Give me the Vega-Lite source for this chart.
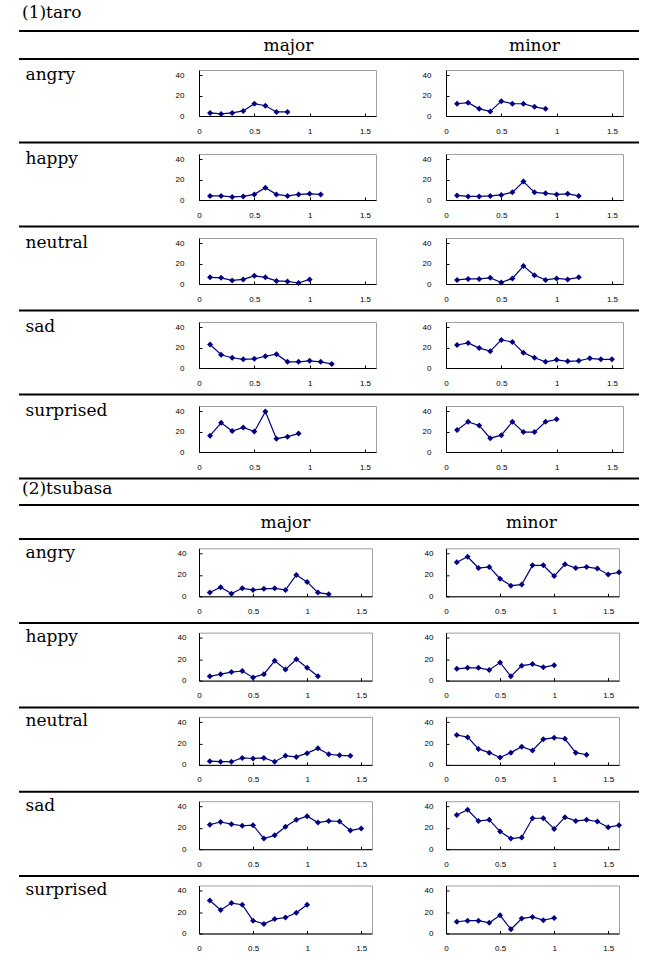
{
"$schema": "https://vega.github.io/schema/vega-lite/v6.json",
"background": "white",
"padding": {"left": 18, "top": 4, "right": 8, "bottom": 0},
"config": {
 "view": {"stroke": "#a0a0a0", "strokeWidth": 1},
 "axis": {"labelFont": "Liberation Sans", "labelFontSize": 8, "labelColor": "black", "domainColor": "black", "tickColor": "black", "grid": false, "tickSize": -3, "labelFlush": false},
 "axisX": {"labelPadding": 14},
 "axisY": {"labelPadding": 18, "titleAngle": 0, "titleAlign": "left", "titleBaseline": "alphabetic", "titleFont": "DejaVu Serif", "titleFontSize": 17, "titleFontWeight": "normal", "titleColor": "black", "titleY": 9, "titleX": -174},
 "title": {"font": "DejaVu Serif", "fontSize": 17, "fontWeight": "normal", "anchor": "start", "frame": "bounds", "dx": 4, "color": "black", "offset": 8},
 "line": {"color": "#000080", "strokeWidth": 1.2},
 "point": {"shape": "diamond", "filled": true, "size": 36, "color": "#000080"}
},
"datasets": {
 "taro_major_angry": [{"x":0.1,"y":3},{"x":0.2,"y":2},{"x":0.3,"y":3},{"x":0.4,"y":5},{"x":0.5,"y":12},{"x":0.6,"y":10},{"x":0.7,"y":4},{"x":0.8,"y":4}],
 "taro_major_happy": [{"x":0.1,"y":4},{"x":0.2,"y":4},{"x":0.3,"y":3},{"x":0.4,"y":3.5},{"x":0.5,"y":5.5},{"x":0.6,"y":12},{"x":0.7,"y":5.5},{"x":0.8,"y":4},{"x":0.9,"y":5.5},{"x":1.0,"y":6},{"x":1.1,"y":5.5}],
 "taro_major_neutral": [{"x":0.1,"y":6.5},{"x":0.2,"y":6},{"x":0.3,"y":3.5},{"x":0.4,"y":4.5},{"x":0.5,"y":8},{"x":0.6,"y":6.5},{"x":0.7,"y":3},{"x":0.8,"y":2.5},{"x":0.9,"y":1},{"x":1.0,"y":4.5}],
 "taro_major_sad": [{"x":0.1,"y":23},{"x":0.2,"y":13},{"x":0.3,"y":10},{"x":0.4,"y":8.5},{"x":0.5,"y":9},{"x":0.6,"y":11.5},{"x":0.7,"y":13.5},{"x":0.8,"y":6},{"x":0.9,"y":6},{"x":1.0,"y":7},{"x":1.1,"y":6},{"x":1.2,"y":4}],
 "taro_major_surprised": [{"x":0.1,"y":16},{"x":0.2,"y":28.5},{"x":0.3,"y":20.5},{"x":0.4,"y":24},{"x":0.5,"y":20},{"x":0.6,"y":39.5},{"x":0.7,"y":13},{"x":0.8,"y":15},{"x":0.9,"y":18}],
 "taro_minor_angry": [{"x":0.1,"y":12},{"x":0.2,"y":13},{"x":0.3,"y":7},{"x":0.4,"y":4.5},{"x":0.5,"y":14.5},{"x":0.6,"y":12},{"x":0.7,"y":12},{"x":0.8,"y":9},{"x":0.9,"y":7}],
 "taro_minor_happy": [{"x":0.1,"y":4.5},{"x":0.2,"y":3.5},{"x":0.3,"y":3.5},{"x":0.4,"y":4},{"x":0.5,"y":5},{"x":0.6,"y":7.5},{"x":0.7,"y":18},{"x":0.8,"y":7.5},{"x":0.9,"y":6.5},{"x":1.0,"y":5.5},{"x":1.1,"y":6},{"x":1.2,"y":4}],
 "taro_minor_neutral": [{"x":0.1,"y":4},{"x":0.2,"y":5},{"x":0.3,"y":5},{"x":0.4,"y":6},{"x":0.5,"y":1.5},{"x":0.6,"y":5.5},{"x":0.7,"y":17.5},{"x":0.8,"y":8.5},{"x":0.9,"y":4},{"x":1.0,"y":5.5},{"x":1.1,"y":4.5},{"x":1.2,"y":6.5}],
 "taro_minor_sad": [{"x":0.1,"y":22.5},{"x":0.2,"y":24.5},{"x":0.3,"y":19.5},{"x":0.4,"y":16.5},{"x":0.5,"y":27.5},{"x":0.6,"y":25.5},{"x":0.7,"y":15},{"x":0.8,"y":10},{"x":0.9,"y":6},{"x":1.0,"y":8},{"x":1.1,"y":6.5},{"x":1.2,"y":7},{"x":1.3,"y":9.5},{"x":1.4,"y":8.5},{"x":1.5,"y":8.5}],
 "taro_minor_surprised": [{"x":0.1,"y":21.5},{"x":0.2,"y":29.5},{"x":0.3,"y":26},{"x":0.4,"y":13.5},{"x":0.5,"y":16.5},{"x":0.6,"y":29.5},{"x":0.7,"y":19.5},{"x":0.8,"y":19.5},{"x":0.9,"y":29.5},{"x":1.0,"y":32}],
 "tsubasa_major_angry": [{"x":0.1,"y":3.5},{"x":0.2,"y":8.5},{"x":0.3,"y":2.5},{"x":0.4,"y":7.5},{"x":0.5,"y":6},{"x":0.6,"y":7},{"x":0.7,"y":7.5},{"x":0.8,"y":6},{"x":0.9,"y":20},{"x":1.0,"y":13.5},{"x":1.1,"y":3.5},{"x":1.2,"y":2}],
 "tsubasa_major_happy": [{"x":0.1,"y":4},{"x":0.2,"y":6},{"x":0.3,"y":8},{"x":0.4,"y":9},{"x":0.5,"y":3},{"x":0.6,"y":6},{"x":0.7,"y":18.5},{"x":0.8,"y":10.5},{"x":0.9,"y":20},{"x":1.0,"y":12},{"x":1.1,"y":4}],
 "tsubasa_major_neutral": [{"x":0.1,"y":3.5},{"x":0.2,"y":3},{"x":0.3,"y":3},{"x":0.4,"y":6.5},{"x":0.5,"y":6},{"x":0.6,"y":6.5},{"x":0.7,"y":3},{"x":0.8,"y":8.5},{"x":0.9,"y":7.5},{"x":1.0,"y":11},{"x":1.1,"y":15.5},{"x":1.2,"y":10},{"x":1.3,"y":9},{"x":1.4,"y":8.5}],
 "tsubasa_major_sad": [{"x":0.1,"y":23},{"x":0.2,"y":25.5},{"x":0.3,"y":23.5},{"x":0.4,"y":22},{"x":0.5,"y":22.5},{"x":0.6,"y":10},{"x":0.7,"y":13},{"x":0.8,"y":21},{"x":0.9,"y":27.5},{"x":1.0,"y":31},{"x":1.1,"y":25},{"x":1.2,"y":26.5},{"x":1.3,"y":26},{"x":1.4,"y":17.5},{"x":1.5,"y":19.5}],
 "tsubasa_major_surprised": [{"x":0.1,"y":31},{"x":0.2,"y":22},{"x":0.3,"y":28.5},{"x":0.4,"y":27},{"x":0.5,"y":12},{"x":0.6,"y":9},{"x":0.7,"y":13.5},{"x":0.8,"y":15},{"x":0.9,"y":19.5},{"x":1.0,"y":27}],
 "tsubasa_minor_angry": [{"x":0.1,"y":32},{"x":0.2,"y":37},{"x":0.3,"y":26.5},{"x":0.4,"y":27.5},{"x":0.5,"y":16.5},{"x":0.6,"y":10},{"x":0.7,"y":11},{"x":0.8,"y":29},{"x":0.9,"y":29},{"x":1.0,"y":19},{"x":1.1,"y":30},{"x":1.2,"y":26.5},{"x":1.3,"y":27.5},{"x":1.4,"y":26},{"x":1.5,"y":20.5},{"x":1.6,"y":22.5}],
 "tsubasa_minor_happy": [{"x":0.1,"y":11},{"x":0.2,"y":12},{"x":0.3,"y":12},{"x":0.4,"y":10},{"x":0.5,"y":17},{"x":0.6,"y":4},{"x":0.7,"y":14},{"x":0.8,"y":15.5},{"x":0.9,"y":12.5},{"x":1.0,"y":14.5}],
 "tsubasa_minor_neutral": [{"x":0.1,"y":28},{"x":0.2,"y":26},{"x":0.3,"y":15},{"x":0.4,"y":11.5},{"x":0.5,"y":7},{"x":0.6,"y":11.5},{"x":0.7,"y":17},{"x":0.8,"y":13.5},{"x":0.9,"y":24},{"x":1.0,"y":25.5},{"x":1.1,"y":24.5},{"x":1.2,"y":11.5},{"x":1.3,"y":9.5}],
 "tsubasa_minor_sad": [{"x":0.1,"y":32},{"x":0.2,"y":37},{"x":0.3,"y":26.5},{"x":0.4,"y":27.5},{"x":0.5,"y":16.5},{"x":0.6,"y":10},{"x":0.7,"y":11},{"x":0.8,"y":29},{"x":0.9,"y":29},{"x":1.0,"y":19},{"x":1.1,"y":30},{"x":1.2,"y":26.5},{"x":1.3,"y":27.5},{"x":1.4,"y":26},{"x":1.5,"y":20.5},{"x":1.6,"y":22.5}],
 "tsubasa_minor_surprised": [{"x":0.1,"y":11},{"x":0.2,"y":12},{"x":0.3,"y":12},{"x":0.4,"y":10},{"x":0.5,"y":17},{"x":0.6,"y":4},{"x":0.7,"y":14},{"x":0.8,"y":15.5},{"x":0.9,"y":12.5},{"x":1.0,"y":14.5}],
 "sep": [{"a":0,"b":1}],
 "hdr": [{"h":"major"},{"h":"minor"}]
},
"spacing": 0,
"vconcat": [
 {"spacing": 4, "vconcat": [
  {"spacing": 4, "vconcat": [
   {"title": "(1)taro", "width": 177, "height": 1, "view": {"stroke": null}, "data": {"name": "sep"}, "mark": {"type": "rule", "strokeWidth": 2, "color": "black"}, "encoding": {"x": {"field": "a", "type": "quantitative", "scale": {"domain": [0, 1], "range": [-180, 440]}, "axis": null}, "x2": {"field": "b"}, "y": {"datum": 1, "type": "quantitative", "scale": {"domain": [0, 1]}, "axis": null}}},
   {"width": 177, "height": 17, "view": {"stroke": null}, "data": {"name": "hdr"}, "mark": {"type": "text", "font": "DejaVu Serif", "fontSize": 17, "color": "black"}, "encoding": {"x": {"field": "h", "type": "nominal", "scale": {"type": "point", "domain": ["major", "minor"], "range": [89.5, 335.5], "padding": 0}, "axis": null}, "text": {"field": "h"}}},
   {"width": 177, "height": 1, "view": {"stroke": null}, "data": {"name": "sep"}, "mark": {"type": "rule", "strokeWidth": 2, "color": "black"}, "encoding": {"x": {"field": "a", "type": "quantitative", "scale": {"domain": [0, 1], "range": [-180, 440]}, "axis": null}, "x2": {"field": "b"}, "y": {"datum": 1, "type": "quantitative", "scale": {"domain": [0, 1]}, "axis": null}}}
  ]},
  {"spacing": 5.5, "vconcat": [
   {"spacing": 44, "hconcat": [
    {"width": 177, "height": 46, "data": {"name": "taro_major_angry"}, "mark": {"type": "line", "point": true}, "encoding": {"x": {"field": "x", "type": "quantitative", "scale": {"domain": [0, 1.6], "nice": false}, "axis": {"values": [0, 0.5, 1, 1.5], "format": "~g", "title": null}}, "y": {"field": "y", "type": "quantitative", "scale": {"domain": [0, 45], "nice": false}, "axis": {"values": [0, 20, 40], "title": "angry"}}}},
    {"width": 177, "height": 46, "data": {"name": "taro_minor_angry"}, "mark": {"type": "line", "point": true}, "encoding": {"x": {"field": "x", "type": "quantitative", "scale": {"domain": [0, 1.6], "nice": false}, "axis": {"values": [0, 0.5, 1, 1.5], "format": "~g", "title": null}}, "y": {"field": "y", "type": "quantitative", "scale": {"domain": [0, 45], "nice": false}, "axis": {"values": [0, 20, 40], "title": null}}}}
   ]},
   {"width": 177, "height": 1, "view": {"stroke": null}, "data": {"name": "sep"}, "mark": {"type": "rule", "strokeWidth": 2, "color": "black"}, "encoding": {"x": {"field": "a", "type": "quantitative", "scale": {"domain": [0, 1], "range": [-180, 440]}, "axis": null}, "x2": {"field": "b"}, "y": {"datum": 1, "type": "quantitative", "scale": {"domain": [0, 1]}, "axis": null}}}
  ]},
  {"spacing": 5.5, "vconcat": [
   {"spacing": 44, "hconcat": [
    {"width": 177, "height": 46, "data": {"name": "taro_major_happy"}, "mark": {"type": "line", "point": true}, "encoding": {"x": {"field": "x", "type": "quantitative", "scale": {"domain": [0, 1.6], "nice": false}, "axis": {"values": [0, 0.5, 1, 1.5], "format": "~g", "title": null}}, "y": {"field": "y", "type": "quantitative", "scale": {"domain": [0, 45], "nice": false}, "axis": {"values": [0, 20, 40], "title": "happy"}}}},
    {"width": 177, "height": 46, "data": {"name": "taro_minor_happy"}, "mark": {"type": "line", "point": true}, "encoding": {"x": {"field": "x", "type": "quantitative", "scale": {"domain": [0, 1.6], "nice": false}, "axis": {"values": [0, 0.5, 1, 1.5], "format": "~g", "title": null}}, "y": {"field": "y", "type": "quantitative", "scale": {"domain": [0, 45], "nice": false}, "axis": {"values": [0, 20, 40], "title": null}}}}
   ]},
   {"width": 177, "height": 1, "view": {"stroke": null}, "data": {"name": "sep"}, "mark": {"type": "rule", "strokeWidth": 2, "color": "black"}, "encoding": {"x": {"field": "a", "type": "quantitative", "scale": {"domain": [0, 1], "range": [-180, 440]}, "axis": null}, "x2": {"field": "b"}, "y": {"datum": 1, "type": "quantitative", "scale": {"domain": [0, 1]}, "axis": null}}}
  ]},
  {"spacing": 5.5, "vconcat": [
   {"spacing": 44, "hconcat": [
    {"width": 177, "height": 46, "data": {"name": "taro_major_neutral"}, "mark": {"type": "line", "point": true}, "encoding": {"x": {"field": "x", "type": "quantitative", "scale": {"domain": [0, 1.6], "nice": false}, "axis": {"values": [0, 0.5, 1, 1.5], "format": "~g", "title": null}}, "y": {"field": "y", "type": "quantitative", "scale": {"domain": [0, 45], "nice": false}, "axis": {"values": [0, 20, 40], "title": "neutral"}}}},
    {"width": 177, "height": 46, "data": {"name": "taro_minor_neutral"}, "mark": {"type": "line", "point": true}, "encoding": {"x": {"field": "x", "type": "quantitative", "scale": {"domain": [0, 1.6], "nice": false}, "axis": {"values": [0, 0.5, 1, 1.5], "format": "~g", "title": null}}, "y": {"field": "y", "type": "quantitative", "scale": {"domain": [0, 45], "nice": false}, "axis": {"values": [0, 20, 40], "title": null}}}}
   ]},
   {"width": 177, "height": 1, "view": {"stroke": null}, "data": {"name": "sep"}, "mark": {"type": "rule", "strokeWidth": 2, "color": "black"}, "encoding": {"x": {"field": "a", "type": "quantitative", "scale": {"domain": [0, 1], "range": [-180, 440]}, "axis": null}, "x2": {"field": "b"}, "y": {"datum": 1, "type": "quantitative", "scale": {"domain": [0, 1]}, "axis": null}}}
  ]},
  {"spacing": 5.5, "vconcat": [
   {"spacing": 44, "hconcat": [
    {"width": 177, "height": 46, "data": {"name": "taro_major_sad"}, "mark": {"type": "line", "point": true}, "encoding": {"x": {"field": "x", "type": "quantitative", "scale": {"domain": [0, 1.6], "nice": false}, "axis": {"values": [0, 0.5, 1, 1.5], "format": "~g", "title": null}}, "y": {"field": "y", "type": "quantitative", "scale": {"domain": [0, 45], "nice": false}, "axis": {"values": [0, 20, 40], "title": "sad"}}}},
    {"width": 177, "height": 46, "data": {"name": "taro_minor_sad"}, "mark": {"type": "line", "point": true}, "encoding": {"x": {"field": "x", "type": "quantitative", "scale": {"domain": [0, 1.6], "nice": false}, "axis": {"values": [0, 0.5, 1, 1.5], "format": "~g", "title": null}}, "y": {"field": "y", "type": "quantitative", "scale": {"domain": [0, 45], "nice": false}, "axis": {"values": [0, 20, 40], "title": null}}}}
   ]},
   {"width": 177, "height": 1, "view": {"stroke": null}, "data": {"name": "sep"}, "mark": {"type": "rule", "strokeWidth": 2, "color": "black"}, "encoding": {"x": {"field": "a", "type": "quantitative", "scale": {"domain": [0, 1], "range": [-180, 440]}, "axis": null}, "x2": {"field": "b"}, "y": {"datum": 1, "type": "quantitative", "scale": {"domain": [0, 1]}, "axis": null}}}
  ]},
  {"spacing": 5.5, "vconcat": [
   {"spacing": 44, "hconcat": [
    {"width": 177, "height": 46, "data": {"name": "taro_major_surprised"}, "mark": {"type": "line", "point": true}, "encoding": {"x": {"field": "x", "type": "quantitative", "scale": {"domain": [0, 1.6], "nice": false}, "axis": {"values": [0, 0.5, 1, 1.5], "format": "~g", "title": null}}, "y": {"field": "y", "type": "quantitative", "scale": {"domain": [0, 45], "nice": false}, "axis": {"values": [0, 20, 40], "title": "surprised"}}}},
    {"width": 177, "height": 46, "data": {"name": "taro_minor_surprised"}, "mark": {"type": "line", "point": true}, "encoding": {"x": {"field": "x", "type": "quantitative", "scale": {"domain": [0, 1.6], "nice": false}, "axis": {"values": [0, 0.5, 1, 1.5], "format": "~g", "title": null}}, "y": {"field": "y", "type": "quantitative", "scale": {"domain": [0, 45], "nice": false}, "axis": {"values": [0, 20, 40], "title": null}}}}
   ]},
   {"width": 177, "height": 1, "view": {"stroke": null}, "data": {"name": "sep"}, "mark": {"type": "rule", "strokeWidth": 2, "color": "black"}, "encoding": {"x": {"field": "a", "type": "quantitative", "scale": {"domain": [0, 1], "range": [-180, 440]}, "axis": null}, "x2": {"field": "b"}, "y": {"datum": 1, "type": "quantitative", "scale": {"domain": [0, 1]}, "axis": null}}}
  ]}
 ]},
 {"spacing": 2.3, "vconcat": [
  {"spacing": 7, "vconcat": [
   {"title": {"text": "(2)tsubasa", "offset": 6}, "width": 173, "height": 1, "view": {"stroke": null}, "data": {"name": "sep"}, "mark": {"type": "rule", "strokeWidth": 2, "color": "black"}, "encoding": {"x": {"field": "a", "type": "quantitative", "scale": {"domain": [0, 1], "range": [-180, 440]}, "axis": null}, "x2": {"field": "b"}, "y": {"datum": 1, "type": "quantitative", "scale": {"domain": [0, 1]}, "axis": null}}},
   {"width": 173, "height": 15, "view": {"stroke": null}, "data": {"name": "hdr"}, "mark": {"type": "text", "font": "DejaVu Serif", "fontSize": 17, "color": "black"}, "encoding": {"x": {"field": "h", "type": "nominal", "scale": {"type": "point", "domain": ["major", "minor"], "range": [86.5, 332.5], "padding": 0}, "axis": null}, "text": {"field": "h"}}},
   {"width": 173, "height": 1, "view": {"stroke": null}, "data": {"name": "sep"}, "mark": {"type": "rule", "strokeWidth": 2, "color": "black"}, "encoding": {"x": {"field": "a", "type": "quantitative", "scale": {"domain": [0, 1], "range": [-180, 440]}, "axis": null}, "x2": {"field": "b"}, "y": {"datum": 1, "type": "quantitative", "scale": {"domain": [0, 1]}, "axis": null}}}
  ]},
  {"spacing": 5.8, "vconcat": [
   {"spacing": 50, "hconcat": [
    {"width": 173, "height": 48, "data": {"name": "tsubasa_major_angry"}, "mark": {"type": "line", "point": true}, "encoding": {"x": {"field": "x", "type": "quantitative", "scale": {"domain": [0, 1.6], "nice": false}, "axis": {"values": [0, 0.5, 1, 1.5], "format": "~g", "title": null}}, "y": {"field": "y", "type": "quantitative", "scale": {"domain": [0, 45], "nice": false}, "axis": {"values": [0, 20, 40], "title": "angry", "labelPadding": 16}}}},
    {"width": 173, "height": 48, "data": {"name": "tsubasa_minor_angry"}, "mark": {"type": "line", "point": true}, "encoding": {"x": {"field": "x", "type": "quantitative", "scale": {"domain": [0, 1.6], "nice": false}, "axis": {"values": [0, 0.5, 1, 1.5], "format": "~g", "title": null}}, "y": {"field": "y", "type": "quantitative", "scale": {"domain": [0, 45], "nice": false}, "axis": {"values": [0, 20, 40], "title": null, "labelPadding": 16}}}}
   ]},
   {"width": 173, "height": 1, "view": {"stroke": null}, "data": {"name": "sep"}, "mark": {"type": "rule", "strokeWidth": 2, "color": "black"}, "encoding": {"x": {"field": "a", "type": "quantitative", "scale": {"domain": [0, 1], "range": [-180, 440]}, "axis": null}, "x2": {"field": "b"}, "y": {"datum": 1, "type": "quantitative", "scale": {"domain": [0, 1]}, "axis": null}}}
  ]},
  {"spacing": 5.8, "vconcat": [
   {"spacing": 50, "hconcat": [
    {"width": 173, "height": 48, "data": {"name": "tsubasa_major_happy"}, "mark": {"type": "line", "point": true}, "encoding": {"x": {"field": "x", "type": "quantitative", "scale": {"domain": [0, 1.6], "nice": false}, "axis": {"values": [0, 0.5, 1, 1.5], "format": "~g", "title": null}}, "y": {"field": "y", "type": "quantitative", "scale": {"domain": [0, 45], "nice": false}, "axis": {"values": [0, 20, 40], "title": "happy", "labelPadding": 16}}}},
    {"width": 173, "height": 48, "data": {"name": "tsubasa_minor_happy"}, "mark": {"type": "line", "point": true}, "encoding": {"x": {"field": "x", "type": "quantitative", "scale": {"domain": [0, 1.6], "nice": false}, "axis": {"values": [0, 0.5, 1, 1.5], "format": "~g", "title": null}}, "y": {"field": "y", "type": "quantitative", "scale": {"domain": [0, 45], "nice": false}, "axis": {"values": [0, 20, 40], "title": null, "labelPadding": 16}}}}
   ]},
   {"width": 173, "height": 1, "view": {"stroke": null}, "data": {"name": "sep"}, "mark": {"type": "rule", "strokeWidth": 2, "color": "black"}, "encoding": {"x": {"field": "a", "type": "quantitative", "scale": {"domain": [0, 1], "range": [-180, 440]}, "axis": null}, "x2": {"field": "b"}, "y": {"datum": 1, "type": "quantitative", "scale": {"domain": [0, 1]}, "axis": null}}}
  ]},
  {"spacing": 5.8, "vconcat": [
   {"spacing": 50, "hconcat": [
    {"width": 173, "height": 48, "data": {"name": "tsubasa_major_neutral"}, "mark": {"type": "line", "point": true}, "encoding": {"x": {"field": "x", "type": "quantitative", "scale": {"domain": [0, 1.6], "nice": false}, "axis": {"values": [0, 0.5, 1, 1.5], "format": "~g", "title": null}}, "y": {"field": "y", "type": "quantitative", "scale": {"domain": [0, 45], "nice": false}, "axis": {"values": [0, 20, 40], "title": "neutral", "labelPadding": 16}}}},
    {"width": 173, "height": 48, "data": {"name": "tsubasa_minor_neutral"}, "mark": {"type": "line", "point": true}, "encoding": {"x": {"field": "x", "type": "quantitative", "scale": {"domain": [0, 1.6], "nice": false}, "axis": {"values": [0, 0.5, 1, 1.5], "format": "~g", "title": null}}, "y": {"field": "y", "type": "quantitative", "scale": {"domain": [0, 45], "nice": false}, "axis": {"values": [0, 20, 40], "title": null, "labelPadding": 16}}}}
   ]},
   {"width": 173, "height": 1, "view": {"stroke": null}, "data": {"name": "sep"}, "mark": {"type": "rule", "strokeWidth": 2, "color": "black"}, "encoding": {"x": {"field": "a", "type": "quantitative", "scale": {"domain": [0, 1], "range": [-180, 440]}, "axis": null}, "x2": {"field": "b"}, "y": {"datum": 1, "type": "quantitative", "scale": {"domain": [0, 1]}, "axis": null}}}
  ]},
  {"spacing": 5.8, "vconcat": [
   {"spacing": 50, "hconcat": [
    {"width": 173, "height": 48, "data": {"name": "tsubasa_major_sad"}, "mark": {"type": "line", "point": true}, "encoding": {"x": {"field": "x", "type": "quantitative", "scale": {"domain": [0, 1.6], "nice": false}, "axis": {"values": [0, 0.5, 1, 1.5], "format": "~g", "title": null}}, "y": {"field": "y", "type": "quantitative", "scale": {"domain": [0, 45], "nice": false}, "axis": {"values": [0, 20, 40], "title": "sad", "labelPadding": 16}}}},
    {"width": 173, "height": 48, "data": {"name": "tsubasa_minor_sad"}, "mark": {"type": "line", "point": true}, "encoding": {"x": {"field": "x", "type": "quantitative", "scale": {"domain": [0, 1.6], "nice": false}, "axis": {"values": [0, 0.5, 1, 1.5], "format": "~g", "title": null}}, "y": {"field": "y", "type": "quantitative", "scale": {"domain": [0, 45], "nice": false}, "axis": {"values": [0, 20, 40], "title": null, "labelPadding": 16}}}}
   ]},
   {"width": 173, "height": 1, "view": {"stroke": null}, "data": {"name": "sep"}, "mark": {"type": "rule", "strokeWidth": 2, "color": "black"}, "encoding": {"x": {"field": "a", "type": "quantitative", "scale": {"domain": [0, 1], "range": [-180, 440]}, "axis": null}, "x2": {"field": "b"}, "y": {"datum": 1, "type": "quantitative", "scale": {"domain": [0, 1]}, "axis": null}}}
  ]},
  {"spacing": 50, "hconcat": [
   {"width": 173, "height": 48, "data": {"name": "tsubasa_major_surprised"}, "mark": {"type": "line", "point": true}, "encoding": {"x": {"field": "x", "type": "quantitative", "scale": {"domain": [0, 1.6], "nice": false}, "axis": {"values": [0, 0.5, 1, 1.5], "format": "~g", "title": null}}, "y": {"field": "y", "type": "quantitative", "scale": {"domain": [0, 45], "nice": false}, "axis": {"values": [0, 20, 40], "title": "surprised", "labelPadding": 16}}}},
   {"width": 173, "height": 48, "data": {"name": "tsubasa_minor_surprised"}, "mark": {"type": "line", "point": true}, "encoding": {"x": {"field": "x", "type": "quantitative", "scale": {"domain": [0, 1.6], "nice": false}, "axis": {"values": [0, 0.5, 1, 1.5], "format": "~g", "title": null}}, "y": {"field": "y", "type": "quantitative", "scale": {"domain": [0, 45], "nice": false}, "axis": {"values": [0, 20, 40], "title": null, "labelPadding": 16}}}}
  ]}
 ]}
]
}
